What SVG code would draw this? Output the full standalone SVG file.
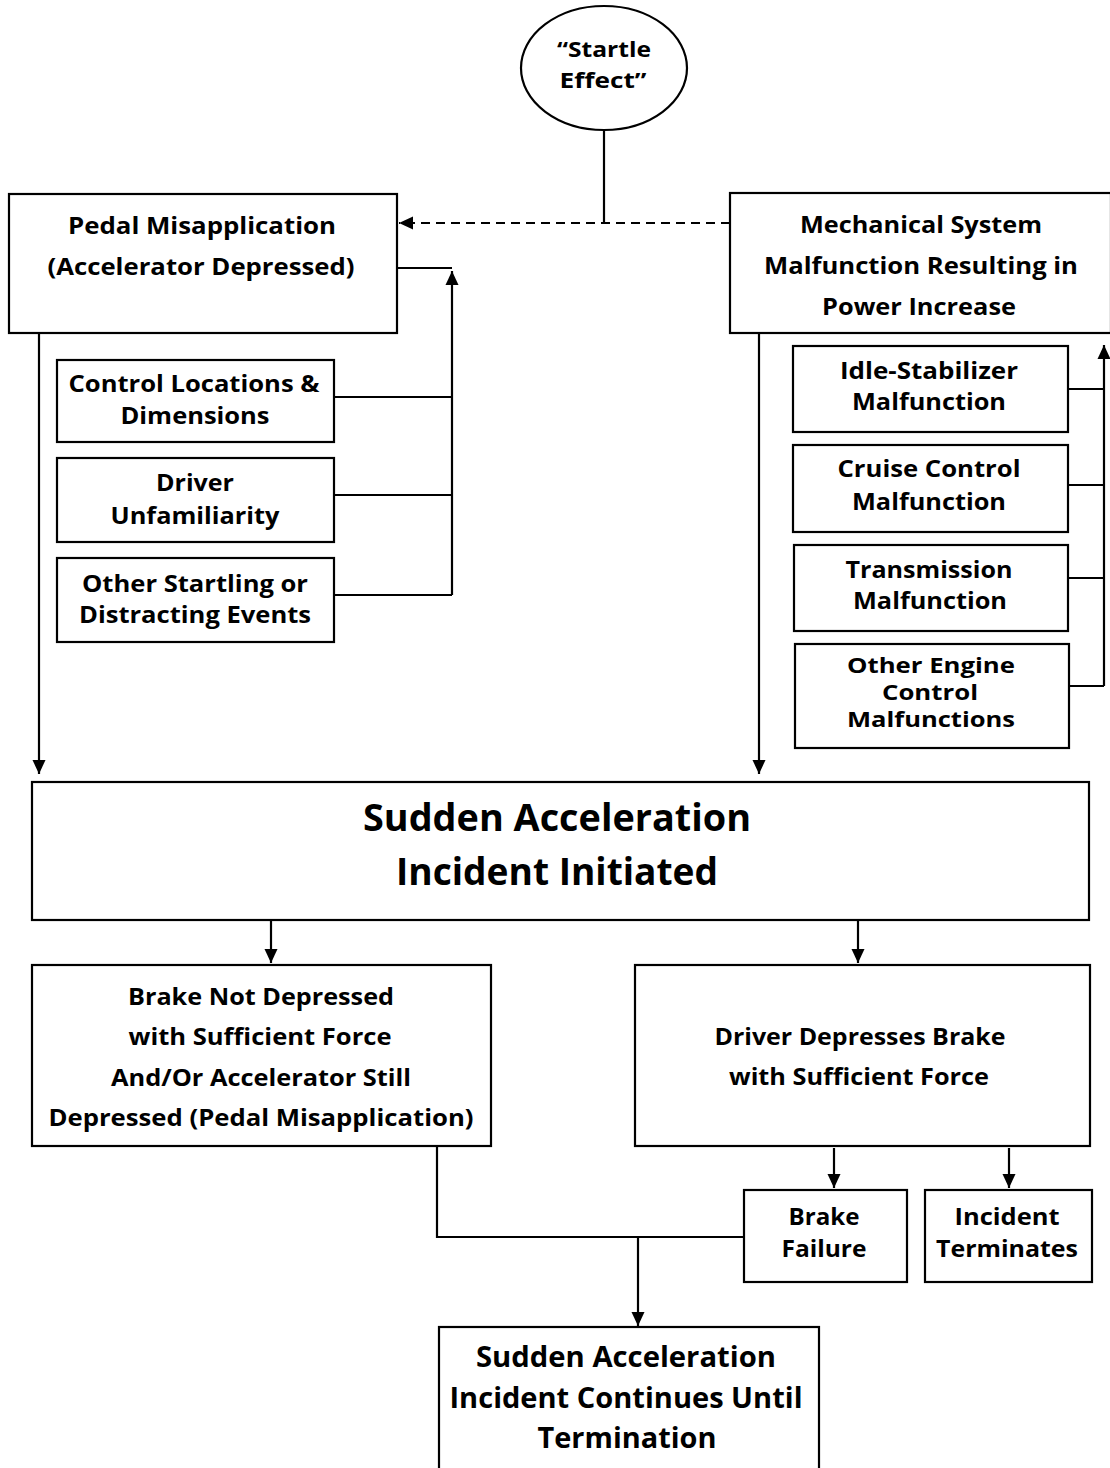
<svg xmlns="http://www.w3.org/2000/svg" width="1110" height="1468" viewBox="0 0 1110 1468">
<style>
  .box { fill: #fff; stroke: #000; stroke-width: 2.2; }
  .ln { fill: none; stroke: #000; stroke-width: 2.2; }
  .dash { fill: none; stroke: #000; stroke-width: 2.2; stroke-dasharray: 9 6; }
  text { font-family: "Open Sans", "Noto Sans", "Liberation Sans", sans-serif; font-weight: bold; fill: #000; text-anchor: middle; }
  .t { font-size: 23px; }
  .s { font-size: 22px; }
  .tight { font-size: 21px; }
  .big { font-size: 38px; }
  .mid { font-size: 24px; }
  .fin { font-size: 29px; }
</style>
<defs>
  <marker id="ah" markerUnits="userSpaceOnUse" markerWidth="15" markerHeight="14" refX="14" refY="7" orient="auto">
    <path d="M0,0.5 L14,7 L0,13.5 z" fill="#000"/>
  </marker>
</defs>
<rect width="1110" height="1468" fill="#fff"/>

<g id="connectors">
  <line class="ln" x1="604" y1="130" x2="604" y2="223"/>
  <line class="dash" x1="730" y1="223" x2="399" y2="223" marker-end="url(#ah)"/>
  <line class="ln" x1="397" y1="268" x2="452" y2="268"/>
  <line class="ln" x1="452" y1="595" x2="452" y2="271" marker-end="url(#ah)"/>
  <line class="ln" x1="334" y1="397" x2="452" y2="397"/>
  <line class="ln" x1="334" y1="495" x2="452" y2="495"/>
  <line class="ln" x1="334" y1="595" x2="452" y2="595"/>
  <line class="ln" x1="39" y1="333" x2="39" y2="774" marker-end="url(#ah)"/>
  <line class="ln" x1="759" y1="333" x2="759" y2="774" marker-end="url(#ah)"/>
  <line class="ln" x1="1068" y1="389" x2="1104" y2="389"/>
  <line class="ln" x1="1068" y1="485" x2="1104" y2="485"/>
  <line class="ln" x1="1068" y1="578" x2="1104" y2="578"/>
  <line class="ln" x1="1068" y1="686" x2="1104" y2="686"/>
  <line class="ln" x1="1104" y1="686" x2="1104" y2="345" marker-end="url(#ah)"/>
  <line class="ln" x1="271" y1="920" x2="271" y2="963" marker-end="url(#ah)"/>
  <line class="ln" x1="858" y1="920" x2="858" y2="963" marker-end="url(#ah)"/>
  <line class="ln" x1="834" y1="1148" x2="834" y2="1188" marker-end="url(#ah)"/>
  <line class="ln" x1="1009" y1="1148" x2="1009" y2="1188" marker-end="url(#ah)"/>
  <polyline class="ln" points="437,1146 437,1237 744,1237"/>
  <line class="ln" x1="638" y1="1237" x2="638" y2="1326" marker-end="url(#ah)"/>
</g>

<g id="startle">
  <ellipse class="box" cx="604" cy="68" rx="83" ry="62"/>
  <text class="s" x="604" y="57" textLength="94" lengthAdjust="spacingAndGlyphs">“Startle</text>
  <text class="s" x="603" y="88" textLength="87" lengthAdjust="spacingAndGlyphs">Effect”</text>
</g>

<g id="pedal">
  <rect class="box" x="9" y="194" width="388" height="139"/>
  <text class="t" x="202" y="234" textLength="268" lengthAdjust="spacingAndGlyphs">Pedal Misapplication</text>
  <text class="t" x="201" y="275" textLength="307" lengthAdjust="spacingAndGlyphs">(Accelerator Depressed)</text>
</g>

<g id="mechanical">
  <rect class="box" x="730" y="193" width="381" height="140"/>
  <text class="t" x="921" y="233" textLength="242" lengthAdjust="spacingAndGlyphs">Mechanical System</text>
  <text class="t" x="921" y="274" textLength="314" lengthAdjust="spacingAndGlyphs">Malfunction Resulting in</text>
  <text class="t" x="919" y="315" textLength="194" lengthAdjust="spacingAndGlyphs">Power Increase</text>
</g>

<g id="control">
  <rect class="box" x="57" y="360" width="277" height="82"/>
  <text class="t" x="194" y="392" textLength="251" lengthAdjust="spacingAndGlyphs">Control Locations &amp;</text>
  <text class="t" x="195" y="424" textLength="149" lengthAdjust="spacingAndGlyphs">Dimensions</text>
</g>

<g id="driver">
  <rect class="box" x="57" y="458" width="277" height="84"/>
  <text class="t" x="195" y="491" textLength="78" lengthAdjust="spacingAndGlyphs">Driver</text>
  <text class="t" x="195" y="524" textLength="169" lengthAdjust="spacingAndGlyphs">Unfamiliarity</text>
</g>

<g id="startling">
  <rect class="box" x="57" y="558" width="277" height="84"/>
  <text class="t" x="195" y="592" textLength="226" lengthAdjust="spacingAndGlyphs">Other Startling or</text>
  <text class="t" x="195" y="623" textLength="232" lengthAdjust="spacingAndGlyphs">Distracting Events</text>
</g>

<g id="idle">
  <rect class="box" x="793" y="346" width="275" height="86"/>
  <text class="t" x="929" y="379" textLength="178" lengthAdjust="spacingAndGlyphs">Idle-Stabilizer</text>
  <text class="t" x="929" y="410" textLength="154" lengthAdjust="spacingAndGlyphs">Malfunction</text>
</g>

<g id="cruise">
  <rect class="box" x="793" y="445" width="275" height="87"/>
  <text class="t" x="929" y="477" textLength="183" lengthAdjust="spacingAndGlyphs">Cruise Control</text>
  <text class="t" x="929" y="510" textLength="154" lengthAdjust="spacingAndGlyphs">Malfunction</text>
</g>

<g id="transmission">
  <rect class="box" x="794" y="545" width="274" height="86"/>
  <text class="t" x="929" y="578" textLength="167" lengthAdjust="spacingAndGlyphs">Transmission</text>
  <text class="t" x="930" y="609" textLength="154" lengthAdjust="spacingAndGlyphs">Malfunction</text>
</g>

<g id="otherengine">
  <rect class="box" x="795" y="644" width="274" height="104"/>
  <text class="tight" x="931" y="673" textLength="168" lengthAdjust="spacingAndGlyphs">Other Engine</text>
  <text class="tight" x="930" y="700" textLength="96" lengthAdjust="spacingAndGlyphs">Control</text>
  <text class="tight" x="931" y="727" textLength="168" lengthAdjust="spacingAndGlyphs">Malfunctions</text>
</g>

<g id="initiated">
  <rect class="box" x="32" y="782" width="1057" height="138"/>
  <text class="big" x="557" y="831" textLength="388" lengthAdjust="spacingAndGlyphs">Sudden Acceleration</text>
  <text class="big" x="557" y="885" textLength="322" lengthAdjust="spacingAndGlyphs">Incident Initiated</text>
</g>

<g id="notdepressed">
  <rect class="box" x="32" y="965" width="459" height="181"/>
  <text class="t" x="261" y="1005" textLength="266" lengthAdjust="spacingAndGlyphs">Brake Not Depressed</text>
  <text class="t" x="260" y="1045" textLength="263" lengthAdjust="spacingAndGlyphs">with Sufficient Force</text>
  <text class="t" x="261" y="1086" textLength="300" lengthAdjust="spacingAndGlyphs">And/Or Accelerator Still</text>
  <text class="t" x="261" y="1126" textLength="425" lengthAdjust="spacingAndGlyphs">Depressed (Pedal Misapplication)</text>
</g>

<g id="depresses">
  <rect class="box" x="635" y="965" width="455" height="181"/>
  <text class="t" x="860" y="1045" textLength="291" lengthAdjust="spacingAndGlyphs">Driver Depresses Brake</text>
  <text class="t" x="859" y="1085" textLength="260" lengthAdjust="spacingAndGlyphs">with Sufficient Force</text>
</g>

<g id="brakefailure">
  <rect class="box" x="744" y="1190" width="163" height="92"/>
  <text class="mid" x="824" y="1225" textLength="71" lengthAdjust="spacingAndGlyphs">Brake</text>
  <text class="mid" x="824" y="1257" textLength="85" lengthAdjust="spacingAndGlyphs">Failure</text>
</g>

<g id="terminates">
  <rect class="box" x="925" y="1190" width="167" height="92"/>
  <text class="mid" x="1007" y="1225" textLength="105" lengthAdjust="spacingAndGlyphs">Incident</text>
  <text class="mid" x="1007" y="1257" textLength="142" lengthAdjust="spacingAndGlyphs">Terminates</text>
</g>

<g id="continues">
  <rect class="box" x="439" y="1327" width="380" height="160"/>
  <text class="fin" x="626" y="1367" textLength="300" lengthAdjust="spacingAndGlyphs">Sudden Acceleration</text>
  <text class="fin" x="626" y="1408" textLength="353" lengthAdjust="spacingAndGlyphs">Incident Continues Until</text>
  <text class="fin" x="627" y="1448" textLength="179" lengthAdjust="spacingAndGlyphs">Termination</text>
</g>
</svg>
